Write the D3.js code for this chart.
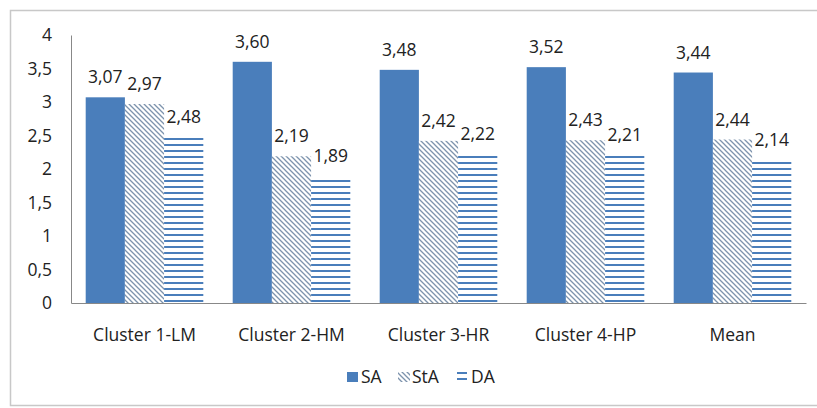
<!DOCTYPE html>
<html><head><meta charset="utf-8">
<script src="https://cdn.jsdelivr.net/npm/d3@7"></script>
<style>body{margin:0;background:#fff}svg{display:block}text{font-family:"Open Sans",sans-serif;fill:#222}</style>
</head><body><svg id="c" width="817" height="408"></svg>
<script>
const categories = ["Cluster 1-LM","Cluster 2-HM","Cluster 3-HR","Cluster 4-HP","Mean"];
const seriesNames = ["SA","StA","DA"];
const SA = [3.07,3.60,3.48,3.52,3.44];
const StA = [2.97,2.19,2.42,2.43,2.44];
const DA = [2.48,1.89,2.22,2.21,2.14];
const yTicks = [0,0.5,1,1.5,2,2.5,3,3.5,4];
const seriesValues = [SA, StA, DA];

const FS = 17.5;
const svg = d3.select("#c");
const blue = "#4a7ebb";
const defs = svg.append("defs");
const pd = defs.append("pattern").attr("id","diag").attr("patternUnits","userSpaceOnUse").attr("width",5).attr("height",5);
pd.append("rect").attr("width",5).attr("height",5).attr("fill","#fff");
pd.append("path").attr("d","M-1,-1 L6,6 M-1,4 L1,6 M4,-1 L6,1").attr("stroke","#7d93ad").attr("stroke-width",1.3);
const ph = defs.append("pattern").attr("id","horiz").attr("patternUnits","userSpaceOnUse").attr("width",6).attr("height",6);
ph.append("rect").attr("width",6).attr("height",6).attr("fill","#fff");
ph.append("rect").attr("y",0).attr("width",6).attr("height",2).attr("fill",blue);
const fills = [blue, "url(#diag)", "url(#horiz)"];

// outer border
svg.append("path").attr("d","M817,10.5 H10.5 V405.5 H817").attr("fill","none").attr("stroke","#c8c8c8").attr("stroke-width",1.5);

const x0 = d3.scaleBand().domain(categories).range([71,806]).paddingInner(0.2).paddingOuter(0.1);
const x1 = d3.scaleBand().domain(seriesNames).range([0,x0.bandwidth()]);
const y = d3.scaleLinear().domain([0,4]).range([303,35]);

const g = svg.append("g");
categories.forEach((c,i)=>{
  seriesNames.forEach((s,j)=>{
    const v = seriesValues[j][i];
    const bx = x0(c)+x1(s);
    g.append("rect").attr("x",bx).attr("y",y(v)).attr("width",x1.bandwidth()).attr("height",y(0)-y(v)).attr("fill",fills[j]);
    g.append("text").attr("x",bx+x1.bandwidth()/2).attr("y",y(v)-14).attr("text-anchor","middle").attr("font-size",FS)
      .text(v.toFixed(2).replace(".",","));
  });
});

// axes
const yAxis = svg.append("g").attr("transform","translate(71,0)").call(d3.axisLeft(y).tickValues(yTicks).tickSize(0).tickPadding(19).tickFormat(d=>String(d).replace(".",",")));
yAxis.select(".domain").attr("stroke","#888").attr("stroke-width",1);
yAxis.selectAll("text").attr("font-size",FS).attr("font-family","Open Sans, sans-serif").attr("fill","#222");
const xAxis = svg.append("g").attr("transform","translate(0,303)").call(d3.axisBottom(x0.copy().paddingInner(0).paddingOuter(0)).tickSize(0).tickPadding(26));
xAxis.select(".domain").attr("stroke","#888").attr("stroke-width",1);
xAxis.selectAll("text").attr("font-size",FS).attr("font-family","Open Sans, sans-serif").attr("fill","#222");

// legend
const legendX = [347, 398, 457];
const leg = svg.append("g");
seriesNames.forEach((s,j)=>{
  if (j===0) leg.append("rect").attr("x",legendX[j]).attr("y",372).attr("width",11).attr("height",10).attr("fill",fills[j]);
  else leg.append("rect").attr("x",legendX[j]).attr("y",372).attr("width",j===1?12:10).attr("height",10).attr("fill",fills[j]);
  leg.append("text").attr("x",legendX[j]+(j===2?14:14)).attr("y",383).attr("font-size",FS).text(s);
});
</script></body></html>
